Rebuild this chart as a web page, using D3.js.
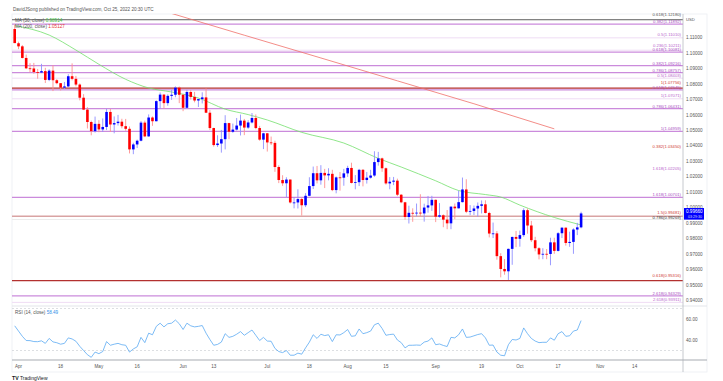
<!DOCTYPE html>
<html>
<head>
<meta charset="utf-8">
<script src="https://cdn.jsdelivr.net/npm/d3@7"></script>
<style>
  body { margin: 0; background: #fff; }
  text { font-family: 'Liberation Sans', Arial, sans-serif; }
</style>
</head>
<body>
<svg id="svg"></svg>
<script>
// EUR/USD daily candles, Mar 31 - Oct 25 2022 (one value per trading day)
const opens = [
  1.1158, 1.1066, 1.1046, 1.0971, 1.0904, 1.0903, 1.0880, 1.0877, 1.0886, 1.0829,
  1.0889, 1.0827, 1.0808, 1.0779, 1.0787, 1.0853, 1.0836, 1.0799, 1.0714, 1.0637,
  1.0557, 1.0498, 1.0545, 1.0509, 1.0525, 1.0622, 1.0541, 1.0550, 1.0559, 1.0530,
  1.0513, 1.0380, 1.0412, 1.0436, 1.0553, 1.0464, 1.0586, 1.0562, 1.0692, 1.0734,
  1.0679, 1.0726, 1.0733, 1.0779, 1.0733, 1.0649, 1.0751, 1.0719, 1.0696, 1.0705,
  1.0716, 1.0617, 1.0518, 1.0408, 1.0418, 1.0446, 1.0550, 1.0494, 1.0508, 1.0534,
  1.0566, 1.0521, 1.0554, 1.0583, 1.0518, 1.0443, 1.0484, 1.0425, 1.0422, 1.0266,
  1.0182, 1.0161, 1.0185, 1.0037, 1.0037, 1.0059, 1.0019, 1.0080, 1.0143, 1.0226,
  1.0180, 1.0228, 1.0212, 1.0222, 1.0117, 1.0199, 1.0197, 1.0225, 1.0260, 1.0163,
  1.0168, 1.0248, 1.0182, 1.0197, 1.0211, 1.0298, 1.0322, 1.0258, 1.0160, 1.0171,
  1.0178, 1.0087, 1.0038, 0.9943, 0.9970, 0.9969, 0.9971, 0.9966, 1.0004, 1.0018,
  1.0054, 0.9945, 0.9954, 0.9926, 0.9902, 1.0010, 0.9999, 1.0039, 1.0121, 0.9977,
  0.9982, 0.9998, 1.0015, 1.0025, 0.9969, 0.9836, 0.9837, 0.9690, 0.9607, 0.9592,
  0.9737, 0.9814, 0.9802, 0.9826, 0.9987, 0.9888, 0.9793, 0.9741, 0.9701, 0.9705,
  0.9704, 0.9779, 0.9724, 0.9838, 0.9874, 0.9775, 0.9782, 0.9862, 0.9876
];
const highs = [
  1.1185, 1.1076, 1.1054, 1.0993, 1.0937, 1.0939, 1.0900, 1.0933, 1.0907, 1.0898,
  1.0924, 1.0834, 1.0809, 1.0816, 1.0866, 1.0936, 1.0855, 1.0806, 1.0737, 1.0653,
  1.0566, 1.0592, 1.0569, 1.0580, 1.0642, 1.0641, 1.0593, 1.0603, 1.0578, 1.0577,
  1.0528, 1.0423, 1.0443, 1.0564, 1.0566, 1.0606, 1.0593, 1.0697, 1.0748, 1.0737,
  1.0736, 1.0765, 1.0787, 1.0786, 1.0737, 1.0765, 1.0764, 1.0752, 1.0707, 1.0749,
  1.0774, 1.0634, 1.0520, 1.0471, 1.0506, 1.0601, 1.0552, 1.0547, 1.0583, 1.0605,
  1.0577, 1.0569, 1.0615, 1.0606, 1.0532, 1.0487, 1.0486, 1.0463, 1.0436, 1.0277,
  1.0213, 1.0200, 1.0185, 1.0071, 1.0122, 1.0069, 1.0097, 1.0200, 1.0269, 1.0273,
  1.0278, 1.0254, 1.0258, 1.0248, 1.0205, 1.0234, 1.0254, 1.0274, 1.0294, 1.0214,
  1.0254, 1.0253, 1.0234, 1.0248, 1.0368, 1.0364, 1.0327, 1.0263, 1.0201, 1.0202,
  1.0191, 1.0091, 1.0041, 1.0016, 0.9999, 1.0030, 1.0090, 1.0029, 1.0079, 1.0080,
  1.0056, 1.0033, 0.9960, 0.9988, 1.0011, 1.0030, 1.0114, 1.0198, 1.0187, 1.0020,
  1.0017, 1.0037, 1.0050, 1.0051, 0.9977, 0.9907, 0.9852, 0.9709, 0.9671, 0.9739,
  0.9816, 0.9853, 0.9855, 0.9999, 0.9998, 0.9918, 0.9815, 0.9748, 0.9741, 0.9736,
  0.9809, 0.9809, 0.9845, 0.9876, 0.9875, 0.9848, 0.9870, 0.9905, 0.9977
];
const lows = [
  1.1067, 1.1028, 1.0968, 1.0899, 1.0878, 1.0869, 1.0837, 1.0873, 1.0809, 1.0821,
  1.0757, 1.0801, 1.0761, 1.0770, 1.0782, 1.0826, 1.0788, 1.0697, 1.0634, 1.0515,
  1.0471, 1.0489, 1.0491, 1.0493, 1.0505, 1.0493, 1.0484, 1.0534, 1.0516, 1.0501,
  1.0354, 1.0349, 1.0389, 1.0432, 1.0459, 1.0462, 1.0532, 1.0561, 1.0644, 1.0645,
  1.0662, 1.0700, 1.0717, 1.0679, 1.0627, 1.0642, 1.0702, 1.0684, 1.0654, 1.0677,
  1.0615, 1.0506, 1.0398, 1.0396, 1.0359, 1.0380, 1.0446, 1.0487, 1.0502, 1.0470,
  1.0472, 1.0513, 1.0548, 1.0510, 1.0436, 1.0382, 1.0366, 1.0408, 1.0235, 1.0162,
  1.0144, 1.0072, 1.0030, 0.9999, 0.9998, 0.9952, 1.0007, 1.0077, 1.0124, 1.0160,
  1.0152, 1.0130, 1.0180, 1.0110, 1.0096, 1.0113, 1.0145, 1.0202, 1.0160, 1.0122,
  1.0143, 1.0141, 1.0159, 1.0191, 1.0203, 1.0275, 1.0235, 1.0152, 1.0122, 1.0149,
  1.0078, 1.0032, 0.9926, 0.9901, 0.9912, 0.9947, 0.9947, 0.9913, 0.9971, 0.9982,
  0.9910, 0.9939, 0.9877, 0.9864, 0.9864, 0.9929, 0.9998, 1.0037, 0.9968, 0.9955,
  0.9956, 0.9945, 0.9966, 0.9966, 0.9811, 0.9807, 0.9667, 0.9553, 0.9570, 0.9536,
  0.9634, 0.9748, 0.9751, 0.9815, 0.9835, 0.9781, 0.9721, 0.9669, 0.9670, 0.9670,
  0.9631, 0.9705, 0.9720, 0.9807, 0.9758, 0.9750, 0.9705, 0.9826, 0.9870
];
const closes = [
  1.1067, 1.1046, 1.0971, 1.0904, 1.0903, 1.0880, 1.0877, 1.0886, 1.0829, 1.0889,
  1.0827, 1.0808, 1.0779, 1.0787, 1.0853, 1.0836, 1.0799, 1.0714, 1.0637, 1.0557,
  1.0498, 1.0545, 1.0509, 1.0525, 1.0622, 1.0541, 1.0550, 1.0559, 1.0530, 1.0513,
  1.0380, 1.0412, 1.0436, 1.0553, 1.0464, 1.0586, 1.0562, 1.0692, 1.0734, 1.0679,
  1.0726, 1.0733, 1.0779, 1.0733, 1.0649, 1.0751, 1.0719, 1.0696, 1.0705, 1.0716,
  1.0617, 1.0518, 1.0408, 1.0418, 1.0446, 1.0550, 1.0494, 1.0508, 1.0534, 1.0566,
  1.0521, 1.0554, 1.0583, 1.0518, 1.0443, 1.0484, 1.0425, 1.0422, 1.0266, 1.0182,
  1.0161, 1.0185, 1.0037, 1.0037, 1.0059, 1.0019, 1.0080, 1.0143, 1.0226, 1.0180,
  1.0228, 1.0212, 1.0222, 1.0117, 1.0199, 1.0197, 1.0225, 1.0260, 1.0163, 1.0168,
  1.0248, 1.0182, 1.0197, 1.0211, 1.0298, 1.0322, 1.0258, 1.0160, 1.0171, 1.0178,
  1.0087, 1.0038, 0.9943, 0.9970, 0.9969, 0.9971, 0.9966, 1.0004, 1.0018, 1.0054,
  0.9945, 0.9954, 0.9926, 0.9902, 1.0010, 0.9999, 1.0039, 1.0121, 0.9977, 0.9982,
  0.9998, 1.0015, 1.0025, 0.9969, 0.9836, 0.9837, 0.9690, 0.9607, 0.9592, 0.9737,
  0.9814, 0.9802, 0.9826, 0.9987, 0.9888, 0.9793, 0.9741, 0.9701, 0.9705, 0.9704,
  0.9779, 0.9724, 0.9838, 0.9874, 0.9775, 0.9782, 0.9862, 0.9876, 0.9966
];

// RSI (14, close), one value per candle
const rsi = [
  53.5, 48.5, 43.5, 39.5, 39.4, 38.5, 38.4, 39.2, 36.8, 41.5,
  38.2, 37.4, 36.0, 36.8, 42.0, 41.0, 38.8, 34.0, 30.0, 26.0,
  23.5, 28.5, 27.0, 29.0, 38.5, 35.0, 36.0, 36.8, 35.5, 35.0,
  28.5, 31.5, 33.5, 42.5, 37.5, 46.5, 45.0, 53.0, 56.0, 52.5,
  55.5, 56.0, 59.0, 55.5, 50.0, 56.0, 53.5, 52.5, 53.0, 53.8,
  46.5, 40.5, 35.0, 35.8, 38.0, 46.0, 42.5, 43.5, 45.5, 48.0,
  44.5, 47.0, 49.5, 44.5, 39.5, 42.5, 39.0, 38.8, 32.0, 29.0,
  28.0, 30.0, 25.5, 25.5, 27.5, 26.5, 32.5, 38.0, 45.0, 41.5,
  45.5, 44.2, 45.0, 38.5, 45.0, 44.8, 47.0, 50.0, 43.5, 44.0,
  50.5, 46.0, 47.0, 48.5, 54.5, 56.0, 51.0, 44.5, 45.2, 45.6,
  40.0, 37.5, 32.5, 35.0, 35.0, 35.2, 35.0, 38.0, 39.0, 42.0,
  35.5, 36.2, 34.8, 33.8, 42.5, 42.0, 45.0, 50.5, 42.5, 42.8,
  44.0, 45.2, 46.0, 42.0, 35.0, 35.2, 28.5, 25.5, 25.0, 35.5,
  40.5, 40.0, 41.5, 51.5, 46.0, 41.5, 39.0, 37.5, 37.8, 37.8,
  42.0, 39.8, 46.0, 48.0, 43.5, 44.0, 48.5, 49.5, 58.49
];

// moving averages at some dates
const ma50Days = ['2022-03-31', '2022-04-13', '2022-04-22', '2022-05-02', '2022-05-11', '2022-05-19',
  '2022-05-27', '2022-06-07', '2022-06-16', '2022-06-24', '2022-07-01', '2022-07-14', '2022-07-29',
  '2022-08-11', '2022-08-19', '2022-09-01', '2022-09-09', '2022-09-20', '2022-09-26', '2022-10-03',
  '2022-10-14', '2022-10-25'];
const ma50 = [1.1180, 1.1119, 1.1022, 1.0930, 1.0833, 1.0777, 1.0751, 1.0712, 1.0640, 1.0605, 1.0570,
  1.0490, 1.0421, 1.0322, 1.0266, 1.0177, 1.0114, 1.0088, 1.0072, 1.0020, 0.9940, 0.98914];
const ma200Days = ['2022-05-24', '2022-06-23', '2022-07-21', '2022-08-18', '2022-09-15', '2022-10-14'];
const ma200 = [1.1281, 1.1118, 1.0971, 1.0823, 1.0675, 1.05127];

// fibonacci levels drawn on the chart, grouped by how they look
const fibGrayRatios = ['0.618'];
const fibGrayPrices = [1.12180];
const fibVioletRatios = ['0.382', '0.618', '0.382', '0.786', '0.618', '0.786', '1', '1.618', '2.618'];
const fibVioletPrices = [1.11892, 1.10081, 1.09216, 1.08757, 1.07645, 1.06431, 1.04959, 1.00701, 0.94329];
const fibLightRatios = ['0.5', '0.5', '1', '2.618'];
const fibLightPrices = [1.11010, 1.08403, 1.07071, 0.93911];
const fibLightUpperRatios = ['0.236'];
const fibLightUpperPrices = [1.10211];
const fibHiddenVioletRatios = ['1.618'];
const fibHiddenVioletPrices = [1.02205];
const fibRedRatios = ['1', '0.618'];
const fibRedPrices = [1.07756, 0.95316];
const fibHiddenRedRatios = ['0.382'];
const fibHiddenRedPrices = [1.03450];
const fibRoseRatios = ['1.5'];
const fibRosePrices = [0.99481];
const fibDarkRatios = ['0.786'];
const fibDarkPrices = [0.99269];

// axis labels
const timeTickDays = ['2022-04-01', '2022-04-18', '2022-05-02', '2022-05-16', '2022-06-01', '2022-06-13',
  '2022-07-01', '2022-07-18', '2022-08-01', '2022-08-15', '2022-09-01', '2022-09-19', '2022-10-03',
  '2022-10-17', '2022-11-01', '2022-11-14'];
const timeTickLabels = ['Apr', '18', 'May', '16', 'Jun', '13', 'Jul', '18', 'Aug', '15', 'Sep', '19',
  'Oct', '17', 'Nov', '14'];
const priceTicks = [0.94, 0.95, 0.96, 0.97, 0.98, 0.99, 1.00, 1.01, 1.02, 1.03, 1.04, 1.05, 1.06,
  1.07, 1.08, 1.09, 1.10, 1.11];
const rsiTicks = [40, 60];

// Define some variables for width and height
const width = 723;
const height = 381;
const left = 12;
const paneRight = 683;
const frameRight = 707;
const mainTop = 14;
const mainBottom = 306;
const rsiBottom = 360;
const frameBottom = 372;
const fontSize = 4.6;
const fibFontSize = 4.2;

// trading day calendar (weekdays) used for the x positions
const dayKey = d3.timeFormat('%Y-%m-%d');
const tradingDays = d3.timeDay.range(new Date(2022, 2, 31), new Date(2022, 11, 1))
  .filter(d => d.getDay() !== 0 && d.getDay() !== 6);
const dayIndex = new Map(tradingDays.map((d, i) => [dayKey(d), i]));

const svg = d3.select('#svg')
  .attr('width', width)
  .attr('height', height)
  .style('display', 'block');

const x = d3.scaleLinear().domain([0, 148]).range([14.7, 581.1]);
const y = d3.scaleLinear().domain([0.94, 1.11]).range([301, 38]);
const yRsi = d3.scaleLinear().domain([30, 70]).range([350.5, 308.5]);

// frame and panes
svg.append('rect')
  .attr('x', left).attr('y', mainTop)
  .attr('width', frameRight - left).attr('height', frameBottom - mainTop)
  .attr('fill', '#fff').attr('stroke', '#eceef2').attr('stroke-width', 0.8);

svg.append('defs').append('clipPath').attr('id', 'main-clip')
  .append('rect')
  .attr('x', left).attr('y', mainTop)
  .attr('width', paneRight - left).attr('height', mainBottom - mainTop);

const main = svg.append('g').attr('clip-path', 'url(#main-clip)');
const fibLabels = svg.append('g');

// fib lines, label sits just above its line
function fibGroup(ratios, prices, lineColor, lineWidth, labelColor, nudge = 0) {
  const levels = prices.map((p, i) => ({ p, label: `${ratios[i]}(${p.toFixed(5)})` }));
  main.selectAll(null)
    .data(levels)
    .enter()
    .append('line')
    .attr('x1', left).attr('x2', paneRight)
    .attr('y1', d => y(d.p)).attr('y2', d => y(d.p))
    .attr('stroke', lineColor)
    .attr('stroke-width', lineWidth);
  fibLabels.selectAll(null)
    .data(levels)
    .enter()
    .append('text')
    .attr('x', 681)
    .attr('y', d => y(d.p) - 1.6 + nudge)
    .attr('text-anchor', 'end')
    .attr('font-size', fibFontSize)
    .attr('fill', labelColor)
    .text(d => d.label);
}

fibGroup(fibLightRatios, fibLightPrices, '#efdcf4', 1, '#b865cc');
fibGroup(fibLightUpperRatios, fibLightUpperPrices, '#efdcf4', 1, '#b865cc', -1.6);
fibGroup(fibHiddenVioletRatios, fibHiddenVioletPrices, 'none', 0, '#b865cc', -2);
fibGroup(fibVioletRatios, fibVioletPrices, '#cb8bdc', 1.3, '#a94fc2', 0.6);
fibGroup(fibRedRatios, fibRedPrices, '#b3312f', 1.2, '#cf3b35', -2.2);
fibGroup(fibHiddenRedRatios, fibHiddenRedPrices, 'none', 0, '#cf3b35', -5);
fibGroup(fibRoseRatios, fibRosePrices, '#d9a3a3', 1.6, '#cf3b35', -1);
fibGroup(fibDarkRatios, fibDarkPrices, '#ececec', 1.2, '#333', 0.8);
fibGroup(fibGrayRatios, fibGrayPrices, '#5d5d5d', 1, '#555', -2);

// moving averages
const maLine = d3.line()
  .x(d => x(dayIndex.get(d.day)))
  .y(d => y(d.v));

main.append('path')
  .datum(ma200Days.map((day, i) => ({ day, v: ma200[i] })))
  .attr('d', maLine)
  .attr('fill', 'none')
  .attr('stroke', '#f0706a')
  .attr('stroke-width', 0.8);

main.append('path')
  .datum(ma50Days.map((day, i) => ({ day, v: ma50[i] })))
  .attr('d', maLine.curve(d3.curveMonotoneX))
  .attr('fill', 'none')
  .attr('stroke', '#74e06c')
  .attr('stroke-width', 0.8);

// candles
const candles = closes.map((c, i) => ({ i, o: opens[i], h: highs[i], l: lows[i], c, up: c >= opens[i] }));

const candle = main.selectAll('g.candle')
  .data(candles)
  .enter()
  .append('g')
  .attr('class', 'candle');

candle.append('line')
  .attr('x1', d => x(d.i)).attr('x2', d => x(d.i))
  .attr('y1', d => y(d.h)).attr('y2', d => y(d.l))
  .attr('stroke', d => d.up ? '#8f8fff' : '#ff8f8f')
  .attr('stroke-width', 0.9);

candle.append('rect')
  .attr('x', d => x(d.i) - 1.3)
  .attr('width', 2.6)
  .attr('y', d => y(Math.max(d.o, d.c)))
  .attr('height', d => Math.max(0.8, Math.abs(y(d.o) - y(d.c))))
  .attr('fill', d => d.up ? '#0000ff' : '#ff0000');

// pane separators and axes lines
svg.append('line')
  .attr('x1', left).attr('x2', frameRight)
  .attr('y1', mainBottom).attr('y2', mainBottom)
  .attr('stroke', '#e3e5ea').attr('stroke-width', 1);

svg.append('line')
  .attr('x1', paneRight).attr('x2', paneRight)
  .attr('y1', mainTop).attr('y2', frameBottom)
  .attr('stroke', '#b8bbc2').attr('stroke-width', 0.8);

svg.append('line')
  .attr('x1', left).attr('x2', frameRight)
  .attr('y1', rsiBottom).attr('y2', rsiBottom)
  .attr('stroke', '#a8abb2').attr('stroke-width', 1.2);

// price axis
svg.append('g')
  .selectAll('text')
  .data(priceTicks)
  .enter()
  .append('text')
  .attr('x', 686)
  .attr('y', d => y(d) + 1.2)
  .attr('font-size', fontSize)
  .attr('fill', '#555')
  .text(d => d3.format('.5f')(d));

svg.append('text')
  .attr('x', 686).attr('y', 21)
  .attr('font-size', 4.2).attr('fill', '#555')
  .text('USD');

// last price label
const lastClose = closes[closes.length - 1];
svg.append('rect')
  .attr('x', 684).attr('y', y(lastClose) - 5.4)
  .attr('width', 20).attr('height', 11.6)
  .attr('fill', '#0000ff');
svg.append('text')
  .attr('x', 686).attr('y', y(lastClose) - 0.2)
  .attr('font-size', fontSize).attr('fill', '#fff')
  .text(d3.format('.5f')(lastClose));
svg.append('text')
  .attr('x', 688).attr('y', y(lastClose) + 4.6)
  .attr('font-size', 3.6).attr('fill', '#dde')
  .text('03:29:30');

// RSI pane
svg.append('g')
  .selectAll('line')
  .data([70, 30])
  .enter()
  .append('line')
  .attr('x1', left).attr('x2', paneRight)
  .attr('y1', d => yRsi(d)).attr('y2', d => yRsi(d))
  .attr('stroke', '#cfd1d6')
  .attr('stroke-width', 0.7)
  .attr('stroke-dasharray', '2,2');

svg.append('path')
  .datum(rsi)
  .attr('d', d3.line().x((d, i) => x(i)).y(d => yRsi(d)))
  .attr('fill', 'none')
  .attr('stroke', '#5aaaf2')
  .attr('stroke-width', 0.8);

svg.append('g')
  .selectAll('text')
  .data(rsiTicks)
  .enter()
  .append('text')
  .attr('x', 686)
  .attr('y', d => yRsi(d) + 1.6)
  .attr('font-size', fontSize)
  .attr('fill', '#555')
  .text(d => d3.format('.2f')(d));

// time axis
svg.append('g')
  .selectAll('text')
  .data(timeTickDays)
  .enter()
  .append('text')
  .attr('x', d => x(dayIndex.get(d)))
  .attr('y', 368)
  .attr('text-anchor', 'middle')
  .attr('font-size', fontSize)
  .attr('fill', '#555')
  .text((d, i) => timeTickLabels[i]);

// legends
svg.append('text')
  .attr('x', 13).attr('y', 10.5)
  .attr('font-size', fontSize).attr('fill', '#555')
  .text('DavidJSong published on TradingView.com, Oct 25, 2022 20:30 UTC');

const legend1 = svg.append('text').attr('x', 15).attr('y', 21.5).attr('font-size', fontSize);
legend1.append('tspan').attr('fill', '#555').text('MA (50, close) ');
legend1.append('tspan').attr('fill', '#3cc03c').text(d3.format('.5f')(ma50[ma50.length - 1]));

const legend2 = svg.append('text').attr('x', 15).attr('y', 28).attr('font-size', fontSize);
legend2.append('tspan').attr('fill', '#555').text('MA (200, close) ');
legend2.append('tspan').attr('fill', '#e53935').text(d3.format('.5f')(ma200[ma200.length - 1]));

const legend3 = svg.append('text').attr('x', 15).attr('y', 313.5).attr('font-size', fontSize);
legend3.append('tspan').attr('fill', '#555').text('RSI (14, close) ');
legend3.append('tspan').attr('fill', '#2f8fe8').text(d3.format('.2f')(rsi[rsi.length - 1]));

// TradingView mark
svg.append('text')
  .attr('x', 12).attr('y', 380)
  .attr('font-size', 5.2).attr('font-weight', 'bold').attr('fill', '#131722')
  .text('TV');
svg.append('text')
  .attr('x', 20).attr('y', 380)
  .attr('font-size', 5).attr('fill', '#131722')
  .text('TradingView');
</script>
</body>
</html>
